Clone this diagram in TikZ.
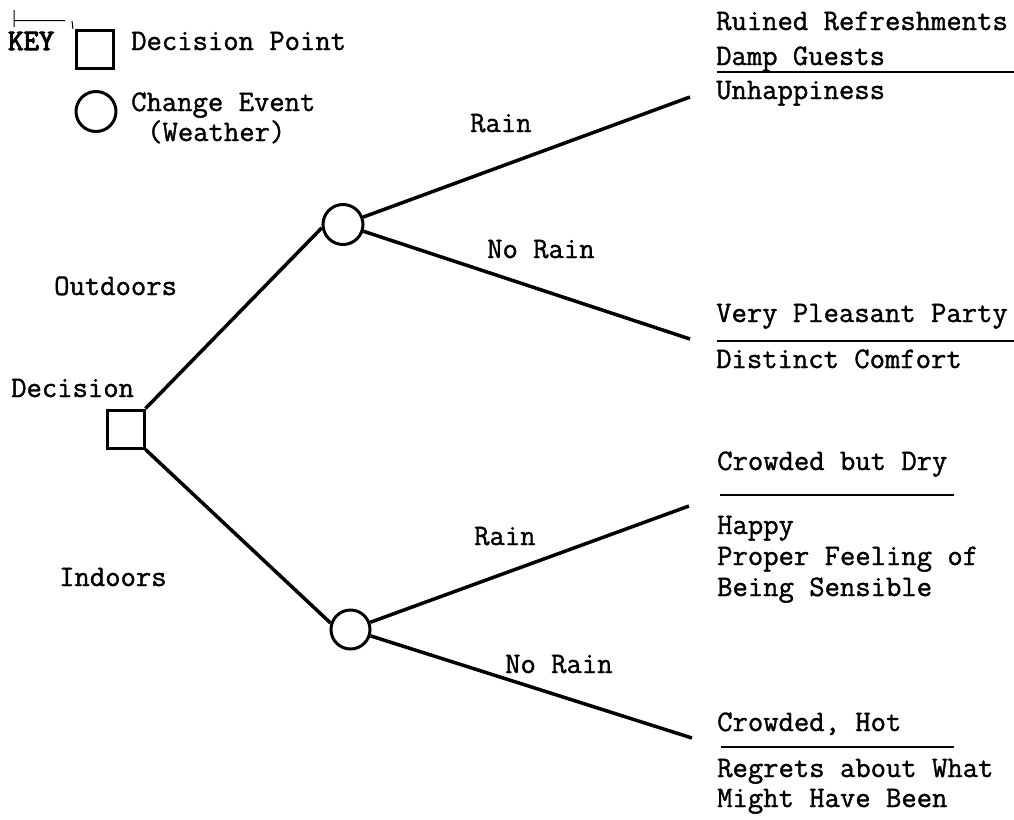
\documentclass[tikz,border=0pt]{standalone}
\usepackage{fontspec}
\setmonofont{Latin Modern Mono}[FakeBold=1.2]
\begin{document}
\begin{tikzpicture}[x=1pt,y=-1pt,
  txt/.style={font=\ttfamily\fontsize{29.8}{34}\selectfont, inner sep=0pt, anchor=base west},
  edge/.style={line width=3.5pt},
  dec/.style={draw, line width=3pt, minimum width=37pt, minimum height=38pt, inner sep=0pt},
  chance/.style={draw, circle, line width=3pt, minimum size=40pt, inner sep=0pt},
  rule/.style={line width=2pt}]
\useasboundingbox (0,0) rectangle (1014,819);

% key
\draw[line width=1pt] (14,10) -- (14,27) (14,20.5) -- (65,20.5) (72,21) -- (73,29);
\node[txt, font=\ttfamily\fontsize{29.8}{34}\selectfont\addfontfeatures{FakeBold=3.5}] (key) at (8,50) {KEY};
\node[dec] (ksq) at (94.5,49) {};
\node[chance] (kcirc) at (96,111.5) {};
\node[txt] (kdp) at (131,50) {Decision Point};
\node[txt] (kce) at (131,111) {Change Event};
\node[txt] (kw) at (147,141) {(Weather)};

% tree nodes
\node[dec] (D) at (125.5,429) {};
\node[chance] (C1) at (343,224.5) {};
\node[chance, minimum size=39pt] (C2) at (350.5,629.5) {};
\coordinate (E1) at (690,97);
\coordinate (E2) at (690,339);
\coordinate (E3) at (689,506);
\coordinate (E4) at (692,738);

\draw[edge] (D.north east) -- (C1.189);
\draw[edge] (D.south east) -- (C2.162);
\draw[edge] (C1) -- (E1);
\draw[edge] (C1) -- (E2);
\draw[edge] (C2) -- (E3);
\draw[edge] (C2) -- (E4);

% branch labels
\node[txt] (ldec) at (11,397) {Decision};
\node[txt] (lout) at (54,295) {Outdoors};
\node[txt] (lin) at (59,586) {Indoors};
\node[txt] (lr1) at (470,132) {Rain};
\node[txt] (lnr1) at (487,258) {No Rain};
\node[txt] (lr2) at (474,545) {Rain};
\node[txt] (lnr2) at (505,673) {No Rain};

% outcomes
\node[txt] (o1a) at (716,30) {Ruined Refreshments};
\node[txt] (o1b) at (716,65) {Damp Guests};
\node[txt] (o1c) at (716,99) {Unhappiness};
\draw[rule] (717,72) -- (1014,72);

\node[txt] (o2a) at (716,322) {Very Pleasant Party};
\node[txt] (o2b) at (716,368) {Distinct Comfort};
\draw[rule] (717,341) -- (1014,341);

\node[txt] (o3a) at (717,470) {Crowded but Dry};
\node[txt] (o3b) at (717,534) {Happy};
\node[txt] (o3c) at (717,565) {Proper Feeling of};
\node[txt] (o3d) at (717,596) {Being Sensible};
\draw[rule] (720,495) -- (954,495);

\node[txt] (o4a) at (717,731) {Crowded, Hot};
\node[txt] (o4b) at (717,777) {Regrets about What};
\node[txt] (o4c) at (717,807) {Might Have Been};
\draw[rule] (721,747) -- (954,747);
\end{tikzpicture}
\end{document}
